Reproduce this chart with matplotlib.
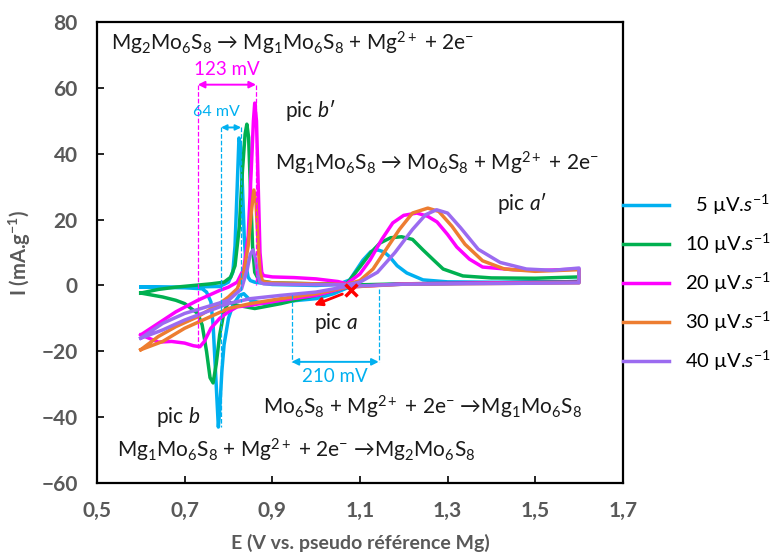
import numpy as np
import matplotlib.pyplot as plt

plt.rcParams['font.family'] = ['Lato', 'DejaVu Sans']
plt.rcParams['mathtext.fontset'] = 'custom'
plt.rcParams['mathtext.rm'] = 'Lato'
plt.rcParams['mathtext.it'] = 'Lato:italic'
plt.rcParams['mathtext.bf'] = 'Lato:bold'
plt.rcParams['mathtext.default'] = 'regular'

# vitesses de balayage
labels = ['  5 µV.$\\mathit{s}^{-1}$', '10 µV.$\\mathit{s}^{-1}$', '20 µV.$\\mathit{s}^{-1}$',
          '30 µV.$\\mathit{s}^{-1}$', '40 µV.$\\mathit{s}^{-1}$']
colors = ['#00B0F0', '#00B050', '#FF00FF', '#ED7D31', '#9B6BF0']

# 5 uV/s
v5_fwd = [0.60, 0.70, 0.78, 0.80, 0.81, 0.815, 0.82, 0.824, 0.828, 0.832, 0.836, 0.84, 0.845, 0.85, 0.86,
          0.90, 1.00, 1.05, 1.077, 1.107, 1.125, 1.141, 1.155, 1.168, 1.185, 1.207, 1.244, 1.30, 1.40, 1.50, 1.60]
i5_fwd = [-0.5, -0.5, -0.3, 1, 4, 12, 30, 44.8, 42, 30, 15, 6, 2.5, 1.5, 1,
          0.3, 0, 0.3, 1.7, 7.7, 10.3, 10.8, 10.2, 8.7, 6, 3.8, 1.7, 1.1, 1.0, 1.0, 1.2]
v5_rev = [1.60, 1.50, 1.40, 1.30, 1.20, 1.10, 1.07, 1.04, 1.00, 0.96, 0.92, 0.88, 0.85, 0.835, 0.825,
          0.81, 0.80, 0.79, 0.785, 0.78, 0.777, 0.772, 0.765, 0.76, 0.75, 0.74, 0.70, 0.60]
i5_rev = [1.2, 1.0, 0.8, 0.6, 0.4, 0.0, -0.8, -2.5, -4, -4.5, -5, -5.5, -4.5, -2.5, -3,
          -6, -10, -18, -26, -38, -43, -30, -12, -5, -2, -1, -0.7, -0.5]

# 10 uV/s
v10_fwd = [0.60, 0.64, 0.68, 0.72, 0.76, 0.79, 0.805, 0.815, 0.825, 0.832, 0.838, 0.842, 0.846, 0.85,
           0.855, 0.86, 0.87, 0.90, 1.00, 1.07, 1.10, 1.125, 1.146, 1.17, 1.195, 1.22, 1.244, 1.27, 1.29,
           1.335, 1.40, 1.50, 1.60]
i10_fwd = [-2.3, -1.2, -0.5, 0, 0.5, 1, 2.5, 6, 18, 35, 46, 49, 45, 30,
           12, 4, 1.5, 0.8, 0.5, 0.5, 5.6, 10, 12.9, 14.5, 14.8, 14, 10.8, 7.5, 5,
           2.9, 2.3, 2.2, 2.6]
v10_rev = [1.60, 1.40, 1.20, 1.10, 1.07, 1.00, 0.92, 0.86, 0.82, 0.80, 0.79, 0.78, 0.772, 0.765, 0.758,
           0.75, 0.74, 0.73, 0.72, 0.70, 0.68, 0.65, 0.60]
i10_rev = [1.2, 0.8, 0.5, 0.2, -0.5, -3, -5.5, -7, -6, -5, -8, -15, -24, -29.6, -28,
           -20, -12, -8.5, -7.5, -5.5, -4.5, -3.5, -2.3]

# 20 uV/s
v20_fwd = [0.60, 0.64, 0.68, 0.73, 0.78, 0.80, 0.82, 0.835, 0.845, 0.852, 0.857, 0.860, 0.864, 0.868,
           0.872, 0.876, 0.88, 0.90, 0.95, 1.00, 1.05, 1.07, 1.10, 1.123, 1.15, 1.175, 1.20, 1.23, 1.255,
           1.276, 1.30, 1.321, 1.35, 1.38, 1.45, 1.52, 1.60]
i20_fwd = [-15, -11.5, -8, -4.5, -1.5, -0.5, 1, 5, 15, 35, 50, 55.4, 50, 30,
           10, 4, 3, 2.6, 2.4, 2.0, 1.2, 0.5, 3.5, 7.7, 14, 19, 21.3, 22, 21,
           19.3, 15.5, 11.7, 8, 5.6, 4.8, 4.6, 5]
v20_rev = [1.60, 1.40, 1.20, 1.07, 1.00, 0.92, 0.85, 0.82, 0.80, 0.78, 0.76, 0.745, 0.735, 0.72,
           0.70, 0.67, 0.64, 0.60]
i20_rev = [1.0, 0.8, 0.5, -0.5, -3, -4.5, -6, -6.5, -8, -10, -13, -17, -18.6, -18.3,
           -17.5, -17, -17.2, -15]

# 30 uV/s
v30_fwd = [0.60, 0.64, 0.68, 0.73, 0.78, 0.80, 0.82, 0.835, 0.845, 0.852, 0.858, 0.863, 0.868, 0.872,
           0.878, 0.90, 1.00, 1.07, 1.10, 1.13, 1.16, 1.19, 1.22, 1.255, 1.28, 1.31, 1.34, 1.38, 1.43,
           1.50, 1.60]
i30_fwd = [-19.5, -15.5, -12.5, -9.5, -5.5, -3.5, -1, 4, 12, 22, 29, 25, 12, 4,
           1.2, 0.8, 0.5, 0.3, 1.5, 5, 11, 17, 22, 23.5, 22.5, 18, 12.5, 7.5, 5,
           4.3, 4.8]
v30_rev = [1.60, 1.40, 1.20, 1.07, 1.00, 0.92, 0.85, 0.80, 0.75, 0.70, 0.65, 0.62, 0.60]
i30_rev = [0.8, 0.6, 0.4, -0.5, -2.5, -4, -5.5, -7, -10, -13, -17, -18.5, -19.5]

# 40 uV/s
v40_fwd = [0.60, 0.65, 0.70, 0.75, 0.80, 0.83, 0.843, 0.85, 0.856, 0.862, 0.867, 0.872, 0.88, 0.95,
           1.07, 1.10, 1.14, 1.18, 1.22, 1.25, 1.275, 1.30, 1.33, 1.37, 1.42, 1.48, 1.54, 1.60]
i40_fwd = [-16, -11.5, -8.5, -6.5, -4.5, -1, 5, 9.5, 10.8, 8, 3, 1, 0.5, 0.3,
           0.2, 1, 4, 10, 17, 21.5, 23, 22, 17.5, 11, 7, 5, 4.6, 5.3]
v40_rev = [1.60, 1.40, 1.20, 1.07, 1.00, 0.92, 0.85, 0.80, 0.75, 0.70, 0.65, 0.60]
i40_rev = [0.8, 0.6, 0.4, -0.3, -2, -3, -4, -5.5, -8, -10.5, -13.5, -16]

xticks = [0.5, 0.7, 0.9, 1.1, 1.3, 1.5, 1.7]
xticklabels = ['0,5', '0,7', '0,9', '1,1', '1,3', '1,5', '1,7']
yticks = [-60, -40, -20, 0, 20, 40, 60, 80]

series = [(v5_fwd, i5_fwd, v5_rev, i5_rev), (v10_fwd, i10_fwd, v10_rev, i10_rev),
          (v20_fwd, i20_fwd, v20_rev, i20_rev), (v30_fwd, i30_fwd, v30_rev, i30_rev),
          (v40_fwd, i40_fwd, v40_rev, i40_rev)]

fig = plt.figure(figsize=(7.79, 5.6), dpi=100)
ax = fig.add_axes([0.1245, 0.1375, 0.675, 0.823])

handles = []
for (vf, jf, vr, jr), c, lab in zip(series, colors, labels):
    v = np.concatenate([vf, vr])
    j = np.concatenate([jf, jr])
    ln, = ax.plot(v, j, color=c, lw=2.5, label=lab, solid_joinstyle='round')
    handles.append(ln)

ax.set_xlim(0.5, 1.7)
ax.set_ylim(-60, 80)
ax.set_xticks(xticks)
ax.set_xticklabels(xticklabels)
ax.set_yticks(yticks)
ax.tick_params(direction='in', length=5, width=1.2, labelsize=15, labelcolor='#595959')
ax.tick_params(axis='x', pad=13)
ax.tick_params(axis='y', pad=14)
for t in ax.get_xticklabels() + ax.get_yticklabels():
    t.set_fontweight('bold')
for s in ax.spines.values():
    s.set_linewidth(1.6)

ax.set_xlabel('E (V vs. pseudo référence Mg)', fontsize=14, fontweight='bold', color='#595959', labelpad=9)
ax.set_ylabel('I (mA.g$^{-1}$)', fontsize=14.5, fontweight='bold', color='#595959', labelpad=6)

txt = dict(fontsize=15, color='#1a1a1a', va='center', ha='left')
ax.text(0.532, 73.6, 'Mg$_2$Mo$_6$S$_8$ → Mg$_1$Mo$_6$S$_8$ + Mg$^{2+}$ + 2e$^{-}$', **txt)
ax.text(0.906, 37.0, 'Mg$_1$Mo$_6$S$_8$ → Mo$_6$S$_8$ + Mg$^{2+}$ + 2e$^{-}$', **txt)
ax.text(0.879, -37, 'Mo$_6$S$_8$ + Mg$^{2+}$ + 2e$^{-}$ →Mg$_1$Mo$_6$S$_8$', **txt)
ax.text(0.545, -50, 'Mg$_1$Mo$_6$S$_8$ + Mg$^{2+}$ + 2e$^{-}$ →Mg$_2$Mo$_6$S$_8$', **txt)
ax.text(0.929, 53.3, 'pic $\\mathit{b}$′', **txt)
ax.text(1.412, 25, 'pic $\\mathit{a}$′', **txt)
ax.text(0.995, -11.4, 'pic $\\mathit{a}$', **txt)
ax.text(0.635, -40, 'pic $\\mathit{b}$', **txt)

# 123 mV (magenta)
mag = '#FF00FF'
ax.plot([0.730, 0.730], [61, -19], ls='--', color=mag, lw=0.9)
ax.plot([0.863, 0.863], [61, 0], ls='--', color=mag, lw=0.9)
ax.annotate('', xy=(0.730, 61), xytext=(0.863, 61),
            arrowprops=dict(arrowstyle='<|-|>', color=mag, lw=1.4, mutation_scale=10, shrinkA=0, shrinkB=0))
ax.text(0.797, 65.6, '123 mV', color=mag, fontsize=13.5, ha='center', va='center')

# 64 mV (bleu)
blu = '#00B0F0'
ax.plot([0.783, 0.783], [48, -43], ls='--', color=blu, lw=0.9)
ax.plot([0.829, 0.829], [48, -5], ls='--', color=blu, lw=0.9)
ax.annotate('', xy=(0.783, 48), xytext=(0.829, 48),
            arrowprops=dict(arrowstyle='<|-|>', color=blu, lw=1.4, mutation_scale=8, shrinkA=0, shrinkB=0))
ax.text(0.772, 52.6, '64 mV', color=blu, fontsize=11.5, ha='center', va='center')

# 210 mV
ax.plot([0.944, 0.944], [-3, -23.2], ls='--', color=blu, lw=0.9)
ax.plot([1.143, 1.143], [-1, -23.2], ls='--', color=blu, lw=0.9)
ax.annotate('', xy=(0.944, -23.2), xytext=(1.143, -23.2),
            arrowprops=dict(arrowstyle='<|-|>', color=blu, lw=1.4, mutation_scale=10, shrinkA=0, shrinkB=0))
ax.text(1.043, -27.5, '210 mV', color=blu, fontsize=13.5, ha='center', va='center')

# croisement + fleche rouge
ax.plot([1.079], [-1.3], marker='x', color='red', ms=9, mew=2.5)
ax.annotate('', xy=(0.995, -6.0), xytext=(1.06, -2.6),
            arrowprops=dict(arrowstyle='-|>', color='red', lw=2, mutation_scale=12, shrinkA=0, shrinkB=0))

fig.legend(handles=handles, loc='upper left', bbox_to_anchor=(623 / 779, 1 - 193 / 560), frameon=False,
           fontsize=14.5, handlelength=2.3, handletextpad=0.8, labelspacing=0.73, borderaxespad=0, borderpad=0)

fig.savefig('out.png', dpi=100)
